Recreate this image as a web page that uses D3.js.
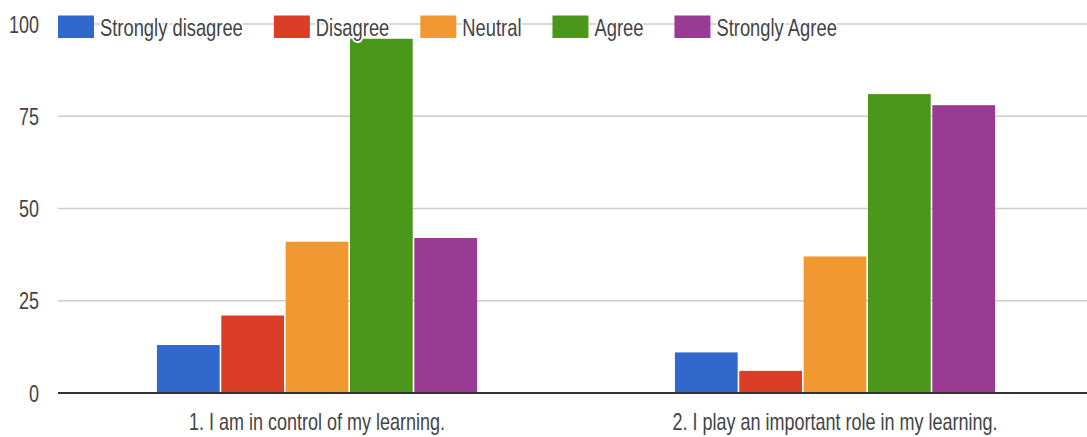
<!DOCTYPE html>
<html>
<head>
<meta charset="utf-8">
<script src="https://cdn.jsdelivr.net/npm/d3@7"></script>
<style>
  html, body { margin: 0; padding: 0; background: #fff; }
  svg { display: block; }
  text { font-family: "Liberation Sans", Arial, sans-serif; }
</style>
</head>
<body>
<svg id="chart" width="1087" height="437"></svg>
<script>
const categories = ["1. I am in control of my learning.", "2. I play an important role in my learning."];
const seriesNames = ["Strongly disagree", "Disagree", "Neutral", "Agree", "Strongly Agree"];
const stronglyDisagree = [13, 11];
const disagree = [21, 6];
const neutral = [41, 37];
const agree = [96, 81];
const stronglyAgree = [42, 78];
const yTicks = [0, 25, 50, 75, 100];
const colors = ["#3267cc", "#db3e26", "#f29830", "#4a971c", "#993a93"];

const seriesValues = [stronglyDisagree, disagree, neutral, agree, stronglyAgree];
const data = categories.map((c, i) => ({
  category: c,
  values: seriesNames.map((s, j) => ({ series: s, value: seriesValues[j][i] }))
}));

const svg = d3.select("#chart");
const plotLeft = 58, plotRight = 1094, plotTop = 24, plotBottom = 393;
const FS = 24, SX = 0.75, LSX = 0.765;

const x0 = d3.scaleBand().domain(categories).range([plotLeft, plotRight]).paddingInner(0.382).paddingOuter(0.191);
const x1 = d3.scaleBand().domain(seriesNames).range([0, x0.bandwidth()]).paddingInner(0.025);
const y = d3.scaleLinear().domain([0, 100]).range([plotBottom, plotTop]);
const color = d3.scaleOrdinal().domain(seriesNames).range(colors);

// gridlines
svg.append("g").selectAll("line").data(yTicks.filter(d => d !== 0)).join("line")
  .attr("x1", plotLeft).attr("x2", plotRight)
  .attr("y1", d => y(d)).attr("y2", d => y(d))
  .attr("stroke", "#cccccc").attr("stroke-width", 1.5);

// y tick labels
svg.append("g").selectAll("text").data(yTicks).join("text")
  .attr("transform", d => `translate(39,${y(d)}) scale(${SX},1)`)
  .attr("dy", "0.36em")
  .attr("text-anchor", "end")
  .attr("font-size", FS)
  .attr("fill", "#444")
  .text(d => d);

// bars
const groups = svg.append("g").selectAll("g").data(data).join("g")
  .attr("transform", d => `translate(${x0(d.category)},0)`);
groups.selectAll("rect").data(d => d.values).join("rect")
  .attr("x", d => x1(d.series))
  .attr("width", x1.bandwidth())
  .attr("y", d => y(d.value))
  .attr("height", d => y(0) - y(d.value))
  .attr("fill", d => color(d.series));

// baseline
svg.append("line")
  .attr("x1", plotLeft).attr("x2", plotRight)
  .attr("y1", y(0)).attr("y2", y(0))
  .attr("stroke", "#333").attr("stroke-width", 2);

// category labels
svg.append("g").selectAll("text").data(categories).join("text")
  .attr("transform", d => `translate(${x0(d) + x0.bandwidth() / 2},429.5) scale(${SX},1)`)
  .attr("text-anchor", "middle")
  .attr("font-size", FS)
  .attr("fill", "#444")
  .text(d => d);

// legend
const legend = svg.append("g");
let lx = plotLeft;
seriesNames.forEach((s, i) => {
  const g = legend.append("g");
  g.append("rect")
    .attr("x", lx).attr("y", 15.5)
    .attr("width", 36).attr("height", 22.5)
    .attr("fill", color(s));
  const t = g.append("text")
    .attr("transform", `translate(${lx + 42},36) scale(${LSX},1)`)
    .attr("font-size", FS)
    .attr("fill", "#444")
    .attr("stroke", "#fff").attr("stroke-width", 4)
    .attr("paint-order", "stroke")
    .attr("stroke-linejoin", "round")
    .text(s);
  const w = t.node().getComputedTextLength() * LSX;
  lx = lx + 42 + w + 31;
});
</script>
</body>
</html>
